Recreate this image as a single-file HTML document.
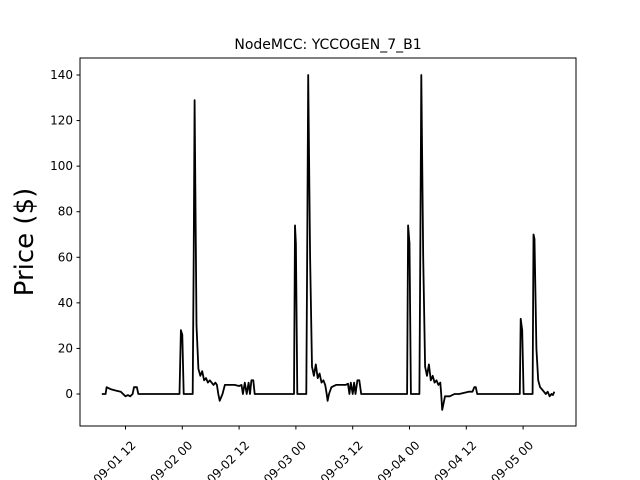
<!DOCTYPE html>
<html><head><meta charset="utf-8"><style>
html,body{margin:0;background:#fff;width:640px;height:480px;overflow:hidden;font-family:"Liberation Sans","DejaVu Sans",sans-serif;}
svg{display:block;overflow:hidden;}
svg text{font-family:"DejaVu Sans","Liberation Sans",sans-serif;}
</style></head><body>
<svg id="chart" width="640" height="480" viewBox="0 0 640 480">
<rect width="640" height="480" fill="#fff"/>
<text x="328" y="49" font-size="14" text-anchor="middle">NodeMCC: YCCOGEN_7_B1</text>
<text transform="translate(33,242) rotate(-90)" font-size="26" text-anchor="middle">Price ($)</text>
<g id="ticks"></g>
<polyline id="line" fill="none" stroke="#000" stroke-width="1.8" stroke-linejoin="round"/>
<rect x="80" y="58" width="496" height="368" fill="none" stroke="#000" stroke-width="1"/>
</svg>
<script>
// hours relative to 2019-09-02 00:00
const hours = [
-17,-16.2,-16,-15.5,-15,-14,-13,-12.5,-12,-11.5,-11,-10.5,-10.2,-9.6,-9.3,
-0.6,-0.3,0,0.3,2.2,2.4,2.6,3.0,3.4,3.8,4.2,4.6,5,5.4,5.8,6.2,6.6,7,7.3,7.6,7.9,8.5,
9,10,11,12,12.5,12.8,13.2,13.6,14,14.3,14.6,15,15.3,
23.6,23.8,24.0,24.3,26.2,26.4,26.6,27.0,27.4,27.8,28.2,28.6,29,29.4,29.8,30.2,30.5,30.7,31,31.5,
32.5,33.5,34.5,35,35.3,35.6,36,36.3,36.6,37,37.4,37.8,38.1,
47.5,47.7,48.0,48.3,50.1,50.3,50.5,50.9,51.3,51.7,52.1,52.5,52.9,53.3,53.7,54.1,54.5,54.7,54.9,
55.5,56.5,57.5,58.5,59.5,60.5,61.3,61.7,62,62.3,
71.3,71.5,71.8,72.1,74.0,74.2,74.4,74.8,75.2,75.6,76,76.4,76.8,77.2,77.6,78,78.3,78.6];
const prices = [
0,0,3,2.5,2,1.5,1,0,-1,-0.5,-1,0,3,3,0,
0,28,26,0,0,60,129,30,11,8,10,6,7,5,6,5,4,5,4,0,-3,0,
4,4,4,3.5,4,0,5,0,5,0,6,6,0,
0,74,66,0,0,70,140,60,12,8,13,7,9,5,6,4,0,-3,0,3,
4,4,4,4.5,0,5,0,5,0,6,6,0,0,
0,74,66,0,0,70,140,60,12,8,13,6,8,5,6,4,5,0,-7,
-1,-1,0,0,0.5,1,1,3,3,0,
0,33,28,0,0,70,68,20,6,3,2,1,0,1,-1,0,-0.5,1];
const yTicks = [0,20,40,60,80,100,120,140];
const xTickHours = [-12,0,12,24,36,48,60,72];
const xTickLabels = ["09-01 12","09-02 00","09-02 12","09-03 00","09-03 12","09-04 00","09-04 12","09-05 00"];

const X = h => 182.3 + h * (56.8/12);
const Y = v => 394 - v * (319/140);
const NS = "http://www.w3.org/2000/svg";
const g = document.getElementById('ticks');
function mk(tag, attrs){const e=document.createElementNS(NS,tag);for(const k in attrs)e.setAttribute(k,attrs[k]);g.appendChild(e);return e;}
yTicks.forEach(v=>{
  const y=Y(v);
  const t=mk('line',{x1:76.5,x2:80,y1:y,y2:y,stroke:'#000','stroke-width':1});
  
  
  const l=mk('text',{x:73,y:y+4,'font-size':12,'text-anchor':'end'});
  l.textContent=v;
  
  
});
xTickHours.forEach((h,i)=>{
  const x=X(h);
  const t=mk('line',{x1:x,x2:x,y1:426,y2:429.5,stroke:'#000','stroke-width':1});
  
  
  const l=mk('text',{transform:`translate(${x+11},${446}) rotate(-45)`,'font-size':12,'text-anchor':'end'});
  l.textContent=xTickLabels[i];
  
  
});
document.getElementById('line').setAttribute('points', hours.map((h,i)=>X(h).toFixed(1)+','+Y(prices[i]).toFixed(1)).join(' '));
</script>
</body></html>
